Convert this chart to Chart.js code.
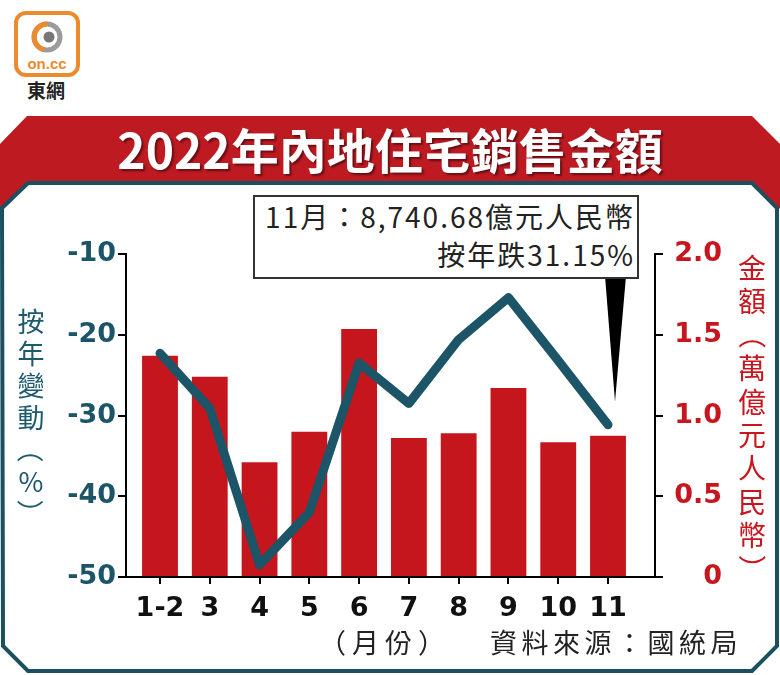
<!DOCTYPE html>
<html>
<head>
<meta charset="utf-8">
<script src="https://cdn.jsdelivr.net/npm/chart.js@4.4.0/dist/chart.umd.min.js"></script>
<style>
html, body { margin: 0; padding: 0; background: #fff; }
#wrap { position: relative; width: 780px; height: 675px; overflow: hidden;
        font-family: "Noto Sans CJK TC", "Noto Sans", sans-serif; }
#frame, #logo, #c { position: absolute; left: 0; top: 0; }
.t { position: absolute; white-space: nowrap; }
.col span { display: block; text-align: center; }
.col span.rot { transform: rotate(90deg); }
#note { left: 253px; top: 195px; width: 380px; height: 80px; border: 2px solid #333;
        background: #fff; text-align: right; padding: 0 2px 0 0; font-size: 28px;
        line-height: 38px; letter-spacing: 2px; color: #222; }
</style>
</head>
<body>
<div id="wrap">
  <svg id="frame" width="780" height="675">
    <polygon points="27,116 752,116 780,144 780,209 752,181 28,181 0,209 0,144" fill="#bd1a22"/>
    <polygon points="2,208 28,183 752,183 777,208 777,646 752,671 28,671 3,646"
             fill="#fff" stroke="#1c4f5f" stroke-width="4"/>
  </svg>
  <svg id="logo" width="100" height="80">
    <rect x="16" y="13" width="62" height="62" rx="10" fill="#fff" stroke="#ec8a2e" stroke-width="4"/>
    <circle cx="47" cy="37" r="13" fill="none" stroke="#9b9b9b" stroke-width="5"/>
    <path d="M47 24 A13 13 0 0 0 44 49.6" fill="none" stroke="#ec8a2e" stroke-width="5"/>
    <circle cx="49" cy="37" r="5.5" fill="#777"/>
    <text x="47" y="69" text-anchor="middle" font-family="Liberation Sans" font-weight="bold"
          font-size="15" fill="#ec8a2e">on.cc</text>
  </svg>
  <div class="t" style="left:27px;top:76px;font-size:19px;font-weight:bold;color:#222">東網</div>

  <canvas id="c" width="780" height="675"></canvas>

  <div class="t" style="left:0;width:780px;text-align:center;top:124px;font-size:48px;line-height:48px;font-weight:bold;color:#fff;text-shadow:2px 2px 2px rgba(0,0,0,0.45)">2022年內地住宅銷售金額</div>

  <div class="t" id="note">11月：8,740.68億元人民幣<br>按年跌31.15%</div>

  <div class="t col" style="left:14px;top:305px;width:34px;font-size:27px;line-height:32px;color:#1d5a6b"><span>按</span><span>年</span><span>變</span><span>動</span><span class="rot">（</span><span>%</span><span class="rot">）</span></div>
  <div class="t col" style="left:736px;top:251px;width:32px;font-size:28px;line-height:33.4px;color:#c8161e"><span>金</span><span>額</span><span class="rot">（</span><span>萬</span><span>億</span><span>元</span><span>人</span><span>民</span><span>幣</span><span class="rot">）</span></div>

  <div class="t" style="left:319px;top:624px;font-size:27px;line-height:36px;letter-spacing:6px;color:#222">（月份）</div>
  <div class="t" style="left:490px;top:624px;font-size:27px;line-height:36px;letter-spacing:4.5px;color:#222">資料來源：國統局</div>
</div>

<script>
// 2022 月份
var months = ["1-2", "3", "4", "5", "6", "7", "8", "9", "10", "11"];
// 按年變動 (%)
var yoyChange = [-22.3, -29.1, -48.5, -42.0, -23.5, -28.5, -20.6, -15.4, -23.2, -31.15];
// 金額 (萬億元人民幣)
var salesValue = [1.37, 1.24, 0.71, 0.90, 1.535, 0.86, 0.89, 1.17, 0.835, 0.874];
var leftTicks = [-50, -40, -30, -20, -10];
var rightTicks = [0, 0.5, 1.0, 1.5, 2.0];

var teal = '#1c5567';
var red = '#c4161c';
var numFont = { family: 'DejaVu Sans', weight: 'bold', size: 27 };

// black pointer from the note box down to the last point
var pointer = {
    id: 'pointer',
    afterDatasetsDraw: function (chart) {
        var ctx = chart.ctx;
        var i = months.length - 1;
        var x = chart.scales.x.getPixelForValue(i) + 7;
        var tipY = chart.scales.yL.getPixelForValue(yoyChange[i]) - 23;
        ctx.save();
        ctx.fillStyle = '#000';
        ctx.beginPath();
        ctx.moveTo(x - 10, 276);
        ctx.lineTo(x + 11, 276);
        ctx.lineTo(x, tipY);
        ctx.closePath();
        ctx.fill();
        ctx.restore();
    }
};

var axisGrid = { drawOnChartArea: false, drawTicks: true, tickLength: 8, color: '#000', lineWidth: 2 };
var axisBorder = { display: true, color: '#000', width: 2 };

new Chart(document.getElementById('c'), {
    type: 'bar',
    data: {
        datasets: [{
            type: 'line',
            data: months.map(function (m, i) { return { x: i, y: yoyChange[i] }; }),
            yAxisID: 'yL',
            borderColor: teal,
            borderWidth: 9,
            borderJoinStyle: 'round',
            borderCapStyle: 'round',
            pointRadius: 0,
            tension: 0,
            order: 0
        }, {
            type: 'bar',
            data: months.map(function (m, i) { return { x: i, y: salesValue[i] }; }),
            yAxisID: 'yR',
            backgroundColor: red,
            barPercentage: 0.72,
            categoryPercentage: 1,
            order: 1
        }]
    },
    options: {
        responsive: false,
        animation: false,
        devicePixelRatio: 1,
        layout: { padding: { left: 0, right: 58, top: 254, bottom: 0 } },
        plugins: { legend: { display: false }, tooltip: { enabled: false } },
        scales: {
            x: {
                type: 'linear',
                offset: false,
                min: -0.683,
                max: 9.944,
                afterBuildTicks: function (s) {
                    s.ticks = months.map(function (m, i) { return { value: i }; });
                },
                afterFit: function (s) { s.height = 98; },
                ticks: {
                    callback: function (v) { return months[v]; },
                    font: numFont, color: '#111', padding: 9, maxRotation: 0, autoSkip: false
                },
                grid: { offset: false, drawOnChartArea: false, drawTicks: true, tickLength: 7, color: '#000', lineWidth: 2 },
                border: axisBorder
            },
            yL: {
                position: 'left',
                min: leftTicks[0],
                max: leftTicks[leftTicks.length - 1],
                afterBuildTicks: function (s) {
                    s.ticks = leftTicks.map(function (v) { return { value: v }; });
                },
                afterFit: function (s) { s.width = 126; },
                ticks: { font: numFont, color: teal, padding: 2 },
                grid: axisGrid,
                border: axisBorder
            },
            yR: {
                position: 'right',
                min: rightTicks[0],
                max: rightTicks[rightTicks.length - 1],
                afterBuildTicks: function (s) {
                    s.ticks = rightTicks.map(function (v) { return { value: v }; });
                },
                afterFit: function (s) { s.width = 67; },
                ticks: {
                    font: numFont, color: '#c8161e', padding: 8, crossAlign: 'far',
                    callback: function (v) { return v === 0 ? '0' : v.toFixed(1); }
                },
                grid: axisGrid,
                border: axisBorder
            }
        }
    },
    plugins: [pointer]
});
</script>
</body>
</html>
